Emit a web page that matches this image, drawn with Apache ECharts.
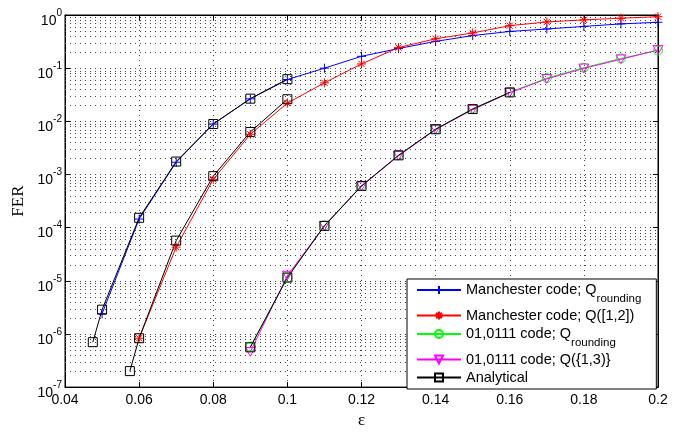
<!DOCTYPE html>
<html>
<head>
<meta charset="utf-8">
<script src="https://cdn.jsdelivr.net/npm/echarts@6/dist/echarts.min.js"></script>
<style>
    html, body { margin: 0; padding: 0; background: #fff; }
    #chart { width: 679px; height: 434px; }
</style>
</head>
<body>
<div id="chart"></div>
<script>
    // FER vs epsilon
    var epsBlue = [0.05, 0.06, 0.07, 0.08, 0.09, 0.1, 0.11, 0.12, 0.13, 0.14, 0.15, 0.16, 0.17, 0.18, 0.19, 0.2];
    var ferBlue = [2.4e-6, 1.45e-4, 1.7e-3, 8.9e-3, 2.65e-2, 6.1e-2, 0.100, 0.167, 0.234, 0.319, 0.41, 0.49, 0.546, 0.61, 0.68, 0.73];

    var epsRed = [0.06, 0.07, 0.08, 0.09, 0.1, 0.11, 0.12, 0.13, 0.14, 0.15, 0.16, 0.17, 0.18, 0.19, 0.2];
    var ferRed = [8.3e-7, 4.3e-5, 8.1e-4, 5.7e-3, 2.2e-2, 0.053, 0.12, 0.244, 0.357, 0.46, 0.63, 0.74, 0.81, 0.87, 0.93];

    var eps0111 = [0.09, 0.1, 0.11, 0.12, 0.13, 0.14, 0.15, 0.16, 0.17, 0.18, 0.19, 0.2];
    var ferGreen = [5.8e-7, 1.15e-5, 1.1e-4, 6.1e-4, 2.3e-3, 7.1e-3, 1.72e-2, 3.5e-2, 6.5e-2, 0.102, 0.152, 0.215];
    var ferMagenta = [4.6e-7, 1.25e-5, 1.08e-4, 6.0e-4, 2.25e-3, 7.0e-3, 1.66e-2, 3.45e-2, 6.3e-2, 0.099, 0.147, 0.22];

    var epsAnaA = [0.0475, 0.05, 0.06, 0.07, 0.08, 0.09, 0.1];
    var ferAnaA = [7.0e-7, 2.86e-6, 1.53e-4, 1.75e-3, 8.9e-3, 2.67e-2, 6.2e-2];
    var epsAnaB = [0.0575, 0.06, 0.07, 0.08, 0.09, 0.1];
    var ferAnaB = [2.0e-7, 8.3e-7, 5.7e-5, 9.3e-4, 6.3e-3, 2.6e-2];
    var epsAnaC = [0.09, 0.1, 0.11, 0.12, 0.13, 0.14, 0.15, 0.16];
    var ferAnaC = [5.6e-7, 1.15e-5, 1.08e-4, 6.1e-4, 2.29e-3, 7.1e-3, 1.7e-2, 3.5e-2];

    var xTicks = { min: 0.04, max: 0.2, step: 0.02 };
    var yDecades = [-7, -6, -5, -4, -3, -2, -1];
    var minorMult = [2, 3, 4, 5, 6, 7, 8, 9];

    var legendNames = [
        'Manchester code; Q_rounding',
        'Manchester code; Q([1,2])',
        '01,0111 code; Q_rounding ',
        '01,0111 code; Q({1,3})',
        'Analytical'
    ];

    var pair = function (xs, ys) {
        return ys.map(function (v, i) { return [xs[i], v]; });
    };

    // minor log grid values (2..9 x 10^d)
    var minorVals = [];
    yDecades.forEach(function (d) {
        minorMult.forEach(function (m) {
            minorVals.push([xTicks.min, m * Math.pow(10, d)]);
        });
    });

    var dotted = { type: [1, 4], color: '#444', width: 1 };
    var clear = 'rgba(255,255,255,0)';
    var font = 'Liberation Sans, Arial, sans-serif';

    var mkSeries = function (name, data, symbol, color, size) {
        return {
            name: name,
            type: 'line',
            data: data,
            symbol: symbol,
            symbolSize: size,
            symbolKeepAspect: true,
            lineStyle: { color: color, width: 1 },
            itemStyle: { color: clear, borderColor: color, borderWidth: 1 },
            emphasis: { disabled: true },
            animation: false
        };
    };

    var plusPath = 'path://M0,5L10,5M5,0L5,10';
    var starPath = 'path://M0,5L10,5M5,0L5,10M1.5,1.5L8.5,8.5M1.5,8.5L8.5,1.5';
    var triPath = 'path://M0,0L10,0L5,8.66Z';

    var myChart = echarts.init(document.getElementById('chart'), null, { renderer: 'canvas' });

    var option = {
        backgroundColor: '#fff',
        animation: false,
        textStyle: { fontFamily: font, color: '#000' },
        grid: {
            left: 65, right: 21, top: 15, bottom: 38,
            show: true, borderColor: '#000', borderWidth: 1
        },
        legend: {
            data: legendNames,
            orient: 'vertical',
            left: 407,
            top: 279,
            padding: [3, 15, 4, 9],
            itemGap: 3,
            itemWidth: 44,
            itemHeight: 10,
            backgroundColor: '#fff',
            borderColor: '#000',
            borderWidth: 1,
            borderRadius: 0,
            selectedMode: false,
            formatter: function (name) {
                if (name.indexOf('_rounding') >= 0) {
                    return '{a|' + name.replace('_rounding', '').trim() + '}{s|rounding}';
                }
                return '{b|' + name + '}';
            },
            textStyle: {
                fontFamily: font,
                fontSize: 14.5,
                color: '#000',
                rich: {
                    a: { fontSize: 14.5, lineHeight: 16, verticalAlign: 'top', fontFamily: font },
                    s: { fontSize: 11.5, lineHeight: 11, verticalAlign: 'top', padding: [11, 0, 0, 0], fontFamily: font },
                    b: { fontSize: 14.5, lineHeight: 16, fontFamily: font }
                }
            }
        },
        xAxis: [{
            type: 'value',
            min: xTicks.min,
            max: xTicks.max,
            interval: xTicks.step,
            name: 'ε',
            nameLocation: 'middle',
            nameGap: 18,
            nameTextStyle: { fontFamily: 'Liberation Serif, serif', fontSize: 17, color: '#000' },
            axisLine: { lineStyle: { color: '#000', width: 1 } },
            axisTick: { inside: true, length: 5, lineStyle: { color: '#000' } },
            axisLabel: { fontSize: 14, color: '#000', margin: 6, fontFamily: font },
            splitLine: { show: true, lineStyle: dotted }
        }, {
            type: 'value',
            position: 'top',
            min: xTicks.min,
            max: xTicks.max,
            interval: xTicks.step,
            axisLine: { lineStyle: { color: '#000', width: 1 } },
            axisTick: { inside: true, length: 5, lineStyle: { color: '#000' } },
            axisLabel: { show: false },
            splitLine: { show: false }
        }],
        yAxis: [{
            type: 'log',
            logBase: 10,
            min: 1e-7,
            max: 1,
            interval: 1,
            name: 'FER',
            nameLocation: 'middle',
            nameGap: 36,
            nameTextStyle: { fontFamily: 'Liberation Serif, serif', fontSize: 17, color: '#000' },
            axisLine: { lineStyle: { color: '#000', width: 1 } },
            axisTick: { inside: true, length: 5, lineStyle: { color: '#000' } },
            axisLabel: {
                margin: 3,
                formatter: function (v) {
                    var e = Math.round(Math.log(v) / Math.LN10);
                    return '{b|10}{s|' + e + '}';
                },
                rich: {
                    b: { fontSize: 14, lineHeight: 14, padding: [6, 0, 0, 0], verticalAlign: 'top', color: '#000', fontFamily: font },
                    s: { fontSize: 10, lineHeight: 10, verticalAlign: 'top', color: '#000', fontFamily: font }
                }
            },
            splitLine: { show: true, lineStyle: dotted }
        }, {
            type: 'log',
            logBase: 10,
            min: 1e-7,
            max: 1,
            interval: 1,
            position: 'right',
            axisLine: { lineStyle: { color: '#000', width: 1 } },
            axisTick: { inside: true, length: 5, lineStyle: { color: '#000' } },
            axisLabel: { show: false },
            splitLine: { show: false }
        }],
        series: [
            {
                name: 'grid-minor',
                type: 'custom',
                data: minorVals,
                encode: { x: 0, y: 1 },
                z: 1,
                silent: true,
                clip: true,
                renderItem: function (params, api) {
                    var v = api.value(1);
                    var a = api.coord([xTicks.min, v]);
                    var b = api.coord([xTicks.max, v]);
                    var y = Math.round(a[1]) + 0.5;
                    return {
                        type: 'line',
                        shape: { x1: a[0], y1: y, x2: b[0], y2: y },
                        style: { stroke: '#444', lineWidth: 1, lineDash: [1, 4] }
                    };
                }
            },
            mkSeries(legendNames[0], pair(epsBlue, ferBlue), plusPath, '#0000ff', 9),
            mkSeries(legendNames[1], pair(epsRed, ferRed), starPath, '#ff0000', 9),
            mkSeries(legendNames[2], pair(eps0111, ferGreen), 'circle', '#00ff00', 9),
            mkSeries(legendNames[3], pair(eps0111, ferMagenta), triPath, '#ff00ff', 10),
            mkSeries('Analytical', pair(epsAnaA, ferAnaA), 'rect', '#000000', 9),
            mkSeries('Analytical', pair(epsAnaB, ferAnaB), 'rect', '#000000', 9),
            mkSeries('Analytical', pair(epsAnaC, ferAnaC), 'rect', '#000000', 9)
        ]
    };
    myChart.setOption(option);
</script>
</body>
</html>
